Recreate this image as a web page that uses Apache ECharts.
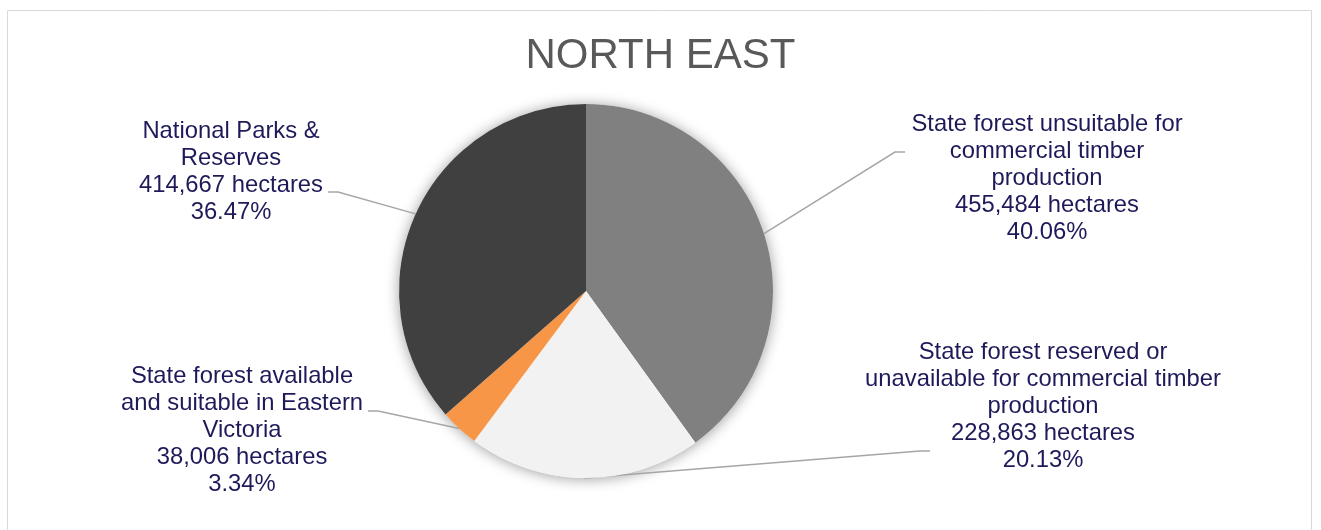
<!DOCTYPE html>
<html>
<head>
<meta charset="utf-8">
<title>North East</title>
<script src="https://cdn.jsdelivr.net/npm/echarts@6/dist/echarts.min.js"></script>
<style>
  html, body { margin: 0; padding: 0; background: #fff; }
  #main { width: 1321px; height: 530px; }
</style>
</head>
<body>
<div id="main"></div>
<script>
// data
var names = [
  'State forest unsuitable for\ncommercial timber\nproduction',
  'State forest reserved or\nunavailable for commercial timber\nproduction',
  'State forest available\nand suitable in Eastern\nVictoria',
  'National Parks &\nReserves'
];
var hectares = [455484, 228863, 38006, 414667];
var percents = ['40.06%', '20.13%', '3.34%', '36.47%'];
var colors = ['#808080', '#f2f2f2', '#f79646', '#404040'];

// label placement: centre of text block, and where the leader line meets it (offset from centre)
var labelPos = [
  { x: 1047, y: 178, dx: -142, dy: -26 },
  { x: 1043, y: 406, dx: -113, dy: 45 },
  { x: 242, y: 430, dx: 126, dy: -19 },
  { x: 231, y: 172, dx: 97, dy: 20 }
];

var pieCenter = [586, 291];
var pieRadius = 187;

function fmt(n) {
  return n.toString().replace(/\B(?=(\d{3})+(?!\d))/g, ',');
}

var chart = echarts.init(document.getElementById('main'), null, { renderer: 'canvas' });

var seriesData = [];
for (var i = 0; i < names.length; i++) {
  seriesData.push({
    name: names[i],
    value: hectares[i],
    itemStyle: { color: colors[i] }
  });
}

var option = {
  animation: false,
  title: {
    text: 'NORTH EAST',
    left: 'center',
    top: 35,
    padding: 0,
    textStyle: {
      fontFamily: 'Liberation Sans',
      fontSize: 42,
      fontWeight: 'normal',
      color: '#595959'
    }
  },
  graphic: [{
    type: 'rect',
    silent: true,
    shape: { x: 7.5, y: 10.5, width: 1304, height: 560 },
    style: { fill: 'none', stroke: '#d9d9d9', lineWidth: 1 }
  }],
  series: [
    {
      // soft shadow under the whole pie
      type: 'pie',
      silent: true,
      z: 1,
      center: pieCenter,
      radius: pieRadius,
      label: { show: false },
      labelLine: { show: false },
      itemStyle: {
        color: '#ffffff',
        shadowBlur: 14,
        shadowColor: 'rgba(0,0,0,0.38)',
        shadowOffsetY: 1
      },
      data: [{ value: 1 }]
    },
    {
      type: 'pie',
      z: 2,
      center: pieCenter,
      radius: pieRadius,
      startAngle: 90,
      clockwise: true,
      data: seriesData,
      label: {
        show: true,
        position: 'outside',
        fontFamily: 'Liberation Sans',
        fontSize: 23.8,
        lineHeight: 27,
        color: '#1e1a5a',
        align: 'center',
        formatter: function (p) {
          return p.name + '\n' + fmt(p.value) + ' hectares\n' + percents[p.dataIndex];
        }
      },
      labelLine: {
        show: true,
        length: 20,
        length2: 10,
        lineStyle: { color: '#a6a6a6', width: 1.5 }
      },
      labelLayout: function (params) {
        var lp = labelPos[params.dataIndex];
        var start = params.labelLinePoints[0];
        var endX = lp.x + lp.dx;
        var endY = lp.y + lp.dy;
        var elbowX = lp.dx < 0 ? endX - 10 : endX + 10;
        return {
          x: lp.x,
          y: lp.y,
          align: 'center',
          verticalAlign: 'middle',
          labelLinePoints: [start, [elbowX, endY], [endX, endY]]
        };
      },
      emphasis: { disabled: true }
    }
  ]
};

chart.setOption(option);
</script>
</body>
</html>
